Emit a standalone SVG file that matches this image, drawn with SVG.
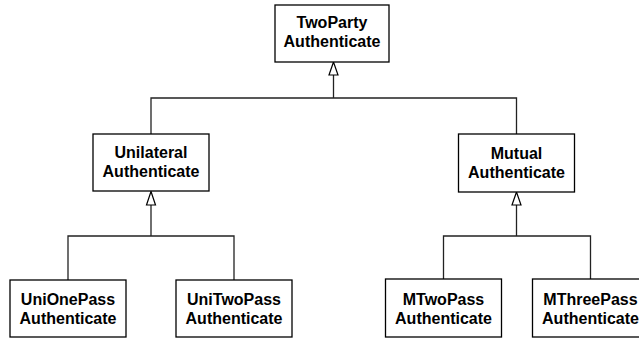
<svg xmlns="http://www.w3.org/2000/svg" width="639" height="338" viewBox="0 0 639 338">
  <style>
    .box { fill: #fff; stroke: #000; stroke-width: 1.3; }
    .lbl { font-family: "Liberation Sans", Arial, sans-serif; font-size: 16px; font-weight: bold; fill: #000; text-anchor: middle; }
    .wire { fill: none; stroke: #222; stroke-width: 1.3; }
    .tri { fill: #fff; stroke: #000; stroke-width: 1.2; }
  </style>
  <rect width="639" height="338" fill="#fff"/>

  <g id="connectors">
    <!-- TwoParty generalization -->
    <polyline class="wire" points="151,134 151,98 516.5,98 516.5,134"/>
    <line class="wire" x1="333.5" y1="75" x2="333.5" y2="98"/>
    <polygon class="tri" points="333.5,62 329,75 338,75"/>
    <!-- Unilateral generalization -->
    <polyline class="wire" points="68,280 68,236 234,236 234,280"/>
    <line class="wire" x1="151" y1="205" x2="151" y2="236"/>
    <polygon class="tri" points="151,191.5 146.5,205 155.5,205"/>
    <!-- Mutual generalization -->
    <polyline class="wire" points="443.5,279 443.5,236 590.5,236 590.5,279"/>
    <line class="wire" x1="516.5" y1="205" x2="516.5" y2="236"/>
    <polygon class="tri" points="516.5,192 512,205 521,205"/>
  </g>

  <g id="twoparty">
    <rect class="box" x="275" y="5" width="114" height="57"/>
    <text class="lbl" x="332" y="28">TwoParty</text>
    <text class="lbl" x="332" y="47">Authenticate</text>
  </g>

  <g id="unilateral">
    <rect class="box" x="93" y="134" width="116" height="57"/>
    <text class="lbl" x="151" y="158">Unilateral</text>
    <text class="lbl" x="151" y="177">Authenticate</text>
  </g>

  <g id="mutual">
    <rect class="box" x="458.5" y="134" width="116" height="58"/>
    <text class="lbl" x="516.5" y="159">Mutual</text>
    <text class="lbl" x="516.5" y="178">Authenticate</text>
  </g>

  <g id="unionepass">
    <rect class="box" x="10" y="280" width="116" height="57"/>
    <text class="lbl" x="68" y="304.5">UniOnePass</text>
    <text class="lbl" x="68" y="323.5">Authenticate</text>
  </g>

  <g id="unitwopass">
    <rect class="box" x="176" y="280" width="116" height="57"/>
    <text class="lbl" x="234" y="304.5">UniTwoPass</text>
    <text class="lbl" x="234" y="323.5">Authenticate</text>
  </g>

  <g id="mtwopass">
    <rect class="box" x="385.5" y="279" width="116" height="58"/>
    <text class="lbl" x="443.5" y="304.5">MTwoPass</text>
    <text class="lbl" x="443.5" y="323.5">Authenticate</text>
  </g>

  <g id="mthreepass">
    <rect class="box" x="532.5" y="279" width="116" height="58"/>
    <text class="lbl" x="590.5" y="304.5">MThreePass</text>
    <text class="lbl" x="590.5" y="323.5">Authenticate</text>
  </g>
</svg>
